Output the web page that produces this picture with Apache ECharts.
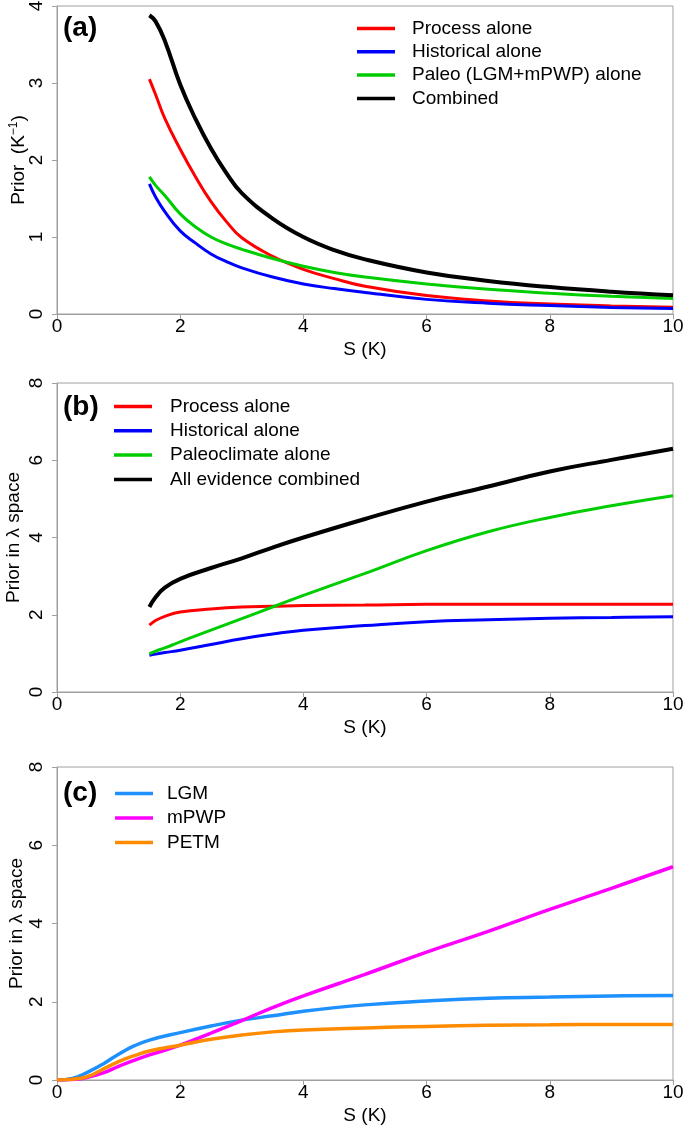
<!DOCTYPE html>
<html><head><meta charset="utf-8">
<script src="https://cdn.jsdelivr.net/npm/echarts@6/dist/echarts.min.js"></script>
<style>html,body{margin:0;padding:0;background:#fff}#c{width:685px;height:1127px}</style>
</head><body><div id="c"></div>
<script>
// Panel (a): prior on S
const sA = [1.5, 1.6, 1.75, 2, 2.25, 2.5, 2.75, 3, 3.5, 4, 4.5, 5, 6, 7, 8, 9, 10];
const aProcess = [3.05, 2.85, 2.54, 2.14, 1.78, 1.46, 1.2, 0.99, 0.75, 0.58, 0.46, 0.36, 0.24, 0.17, 0.13, 0.105, 0.088];
const aHistorical = [1.69, 1.52, 1.33, 1.08, 0.92, 0.78, 0.68, 0.6, 0.48, 0.39, 0.33, 0.28, 0.19, 0.14, 0.11, 0.085, 0.07];
const aPaleo = [1.78, 1.67, 1.54, 1.3, 1.13, 1.0, 0.91, 0.84, 0.72, 0.62, 0.54, 0.48, 0.39, 0.32, 0.27, 0.23, 0.2];
const aCombined = [3.88, 3.8, 3.55, 2.98, 2.53, 2.15, 1.83, 1.57, 1.24, 1.0, 0.83, 0.71, 0.54, 0.43, 0.35, 0.29, 0.245];

// Panel (b): prior in lambda space
const sB = [1.5, 1.6, 1.75, 2, 2.5, 3, 3.5, 4, 5, 6, 7, 8, 9, 10];
const bProcess = [1.73, 1.85, 1.96, 2.07, 2.15, 2.2, 2.22, 2.24, 2.25, 2.27, 2.27, 2.27, 2.27, 2.27];
const bHistorical = [0.95, 0.98, 1.02, 1.08, 1.23, 1.38, 1.5, 1.6, 1.72, 1.82, 1.87, 1.91, 1.93, 1.95];
const bPaleo = [0.99, 1.06, 1.14, 1.3, 1.6, 1.9, 2.2, 2.5, 3.07, 3.66, 4.15, 4.52, 4.82, 5.08];
const bCombined = [2.2, 2.45, 2.7, 2.93, 3.21, 3.46, 3.74, 4.0, 4.48, 4.93, 5.32, 5.71, 6.01, 6.3];

// Panel (c): individual paleo periods
const sC = [0, 0.25, 0.5, 0.75, 1, 1.25, 1.5, 2, 2.5, 3, 3.5, 4, 5, 6, 7, 8, 9, 10];
const cLGM = [0, 0.04, 0.2, 0.41, 0.66, 0.87, 1.02, 1.21, 1.38, 1.53, 1.64, 1.76, 1.92, 2.02, 2.09, 2.12, 2.15, 2.16];
const cMPWP = [0, 0.01, 0.07, 0.18, 0.35, 0.5, 0.64, 0.89, 1.2, 1.52, 1.85, 2.15, 2.7, 3.27, 3.8, 4.36, 4.9, 5.45];
const cPETM = [0, 0.02, 0.09, 0.28, 0.47, 0.62, 0.74, 0.89, 1.04, 1.15, 1.23, 1.28, 1.33, 1.37, 1.4, 1.41, 1.42, 1.42];

const xTicks = [0, 2, 4, 6, 8, 10];

const FONT = 'Liberation Sans, Arial, sans-serif';
const AX = '#a0a0a0';
const pair = (xs, ys) => xs.map((x, i) => [x, ys[i]]);

function xAx(gi) {
  return {
    type: 'value', gridIndex: gi, min: xTicks[0], max: xTicks[xTicks.length - 1], interval: xTicks[1] - xTicks[0],
    name: 'S (K)', nameLocation: 'middle', nameGap: 26, nameMoveOverlap: false,
    nameTextStyle: { fontFamily: FONT, fontSize: 19, color: '#000' },
    axisLine: { show: true, lineStyle: { color: AX, width: 1 } },
    axisTick: { show: true, length: 5, lineStyle: { color: AX } },
    axisLabel: { fontFamily: FONT, fontSize: 19, color: '#000', margin: 3 },
    splitLine: { show: false }
  };
}
function yAx(gi, max, name, gap, rich) {
  return {
    type: 'value', gridIndex: gi, min: 0, max: max, interval: 2 * max / 8,
    name: name, nameLocation: 'middle', nameGap: gap, nameRotate: 90, nameMoveOverlap: false,
    nameTextStyle: Object.assign({ fontFamily: FONT, fontSize: 19, color: '#000' }, rich ? { rich: rich } : {}),
    axisLine: { show: true, lineStyle: { color: AX, width: 1 } },
    axisTick: { show: true, length: 5, lineStyle: { color: AX } },
    axisLabel: { fontFamily: FONT, fontSize: 19, color: '#000', rotate: 90, margin: 11 },
    splitLine: { show: false }
  };
}
function ser(name, gi, xs, ys, color, w) {
  return {
    type: 'line', name: name, xAxisIndex: gi, yAxisIndex: gi,
    data: pair(xs, ys), symbol: 'none', smooth: 0.45,
    lineStyle: { color: color, width: w }, itemStyle: { color: color },
    silent: true, animation: false, z: 3
  };
}
function leg(left, top, gap, pad, names) {
  return {
    orient: 'vertical', left: left, top: top, padding: 0, itemWidth: 38, itemHeight: 3.5,
    icon: 'rect', itemGap: gap, selectedMode: false, data: names,
    textStyle: { fontFamily: FONT, fontSize: 19, color: '#000', lineHeight: 19, padding: [0, 0, 0, pad] }
  };
}
function grd(top, height) {
  return { left: 57, top: top, width: 616, height: height, show: true, borderColor: AX, borderWidth: 1,
    backgroundColor: 'transparent', containLabel: false, outerBoundsMode: 'none' };
}

const chart = echarts.init(document.getElementById('c'), null, { renderer: 'canvas' });
chart.setOption({
  animation: false,
  backgroundColor: '#fff',
  grid: [grd(6, 308), grd(383, 309), grd(767, 313)],
  title: [
    { text: '(a)', left: 58, top: 9, textStyle: { fontFamily: FONT, fontSize: 28, fontWeight: 'bold', color: '#000' } },
    { text: '(b)', left: 58, top: 388, textStyle: { fontFamily: FONT, fontSize: 28, fontWeight: 'bold', color: '#000' } },
    { text: '(c)', left: 58, top: 774, textStyle: { fontFamily: FONT, fontSize: 28, fontWeight: 'bold', color: '#000' } }
  ],
  legend: [
    leg(357, 19, 4.3, 12, ['Process alone', 'Historical alone', 'Paleo (LGM+mPWP) alone', 'Combined']),
    leg(114, 397, 5.3, 13, ['Process alone', 'Historical alone', 'Paleoclimate alone', 'All evidence combined']),
    leg(115, 784, 5.5, 9, ['LGM', 'mPWP', 'PETM'])
  ],
  xAxis: [xAx(0), xAx(1), xAx(2)],
  yAxis: [
    yAx(0, 4, 'Prior  (K{sup|−1})', 27, { sup: { fontFamily: FONT, fontSize: 12, color: '#000', padding: [0, 0, 10, 0] } }),
    yAx(1, 8, 'Prior in λ space', 34),
    yAx(2, 8, 'Prior in λ space', 31)
  ],
  series: [
    ser('Process alone', 0, sA, aProcess, '#ff0000', 3),
    ser('Historical alone', 0, sA, aHistorical, '#0000ff', 3),
    ser('Paleo (LGM+mPWP) alone', 0, sA, aPaleo, '#00cd00', 3),
    ser('Combined', 0, sA, aCombined, '#000000', 4),
    ser('Process alone', 1, sB, bProcess, '#ff0000', 3),
    ser('Historical alone', 1, sB, bHistorical, '#0000ff', 3),
    ser('Paleoclimate alone', 1, sB, bPaleo, '#00cd00', 3),
    ser('All evidence combined', 1, sB, bCombined, '#000000', 4),
    ser('LGM', 2, sC, cLGM, '#1e90ff', 3.5),
    ser('mPWP', 2, sC, cMPWP, '#ff00ff', 3.5),
    ser('PETM', 2, sC, cPETM, '#ff8c00', 3.5)
  ]
});
</script></body></html>
